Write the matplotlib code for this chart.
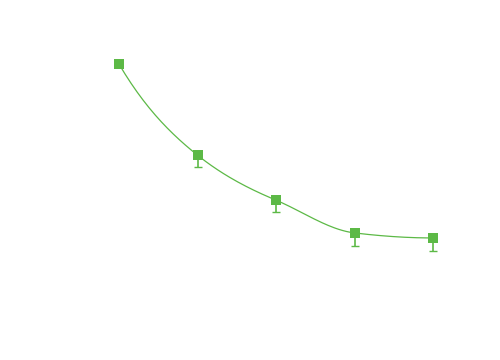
import numpy as np
from matplotlib import pyplot as plt

# data (y scale arbitrary, 0-100)
xs = [1, 2, 3, 4, 5]
values = [82.2, 56.9, 44.4, 35.3, 33.9]
err_low = [0.0, 3.3, 3.3, 3.6, 3.6]

GREEN = "#5cb946"
PX_X = 78.5   # pixels per x unit
PX_Y = 3.6    # pixels per y unit

# tangent of the smooth line at each point, in screen pixels (dy/dx, downward)
curve_slopes = [1.7, 0.8, 0.42, 0.12, 0.0]


def hermite(x, y, m, n=40):
    px, py = [], []
    for i in range(len(x) - 1):
        h = x[i + 1] - x[i]
        t = np.linspace(0, 1, n)
        h00 = 2 * t**3 - 3 * t**2 + 1
        h10 = t**3 - 2 * t**2 + t
        h01 = -2 * t**3 + 3 * t**2
        h11 = t**3 - t**2
        px.extend(x[i] + t * h)
        py.extend(h00 * y[i] + h10 * h * m[i] + h01 * y[i + 1] + h11 * h * m[i + 1])
    return px, py


fig = plt.figure(figsize=(5, 3.6), dpi=100)
ax = fig.add_axes([0, 0, 1, 1])

tangents = [-s * PX_X / PX_Y for s in curve_slopes]
lx, ly = hermite(xs, values, tangents)
ax.plot(lx, ly, color=GREEN, lw=0.9)
ax.errorbar(xs, values, yerr=[err_low, [0] * len(xs)], fmt="none",
            ecolor=GREEN, elinewidth=1.2, capsize=3, capthick=1.0)
ax.plot(xs, values, "s", color=GREEN, markersize=7.2, markeredgewidth=0)

x0 = 1 - 119 / PX_X
ax.set_xlim(x0, x0 + 500 / PX_X)
ax.set_ylim(0, 360 / PX_Y)
ax.axis("off")

fig.savefig("out.png", dpi=100)
